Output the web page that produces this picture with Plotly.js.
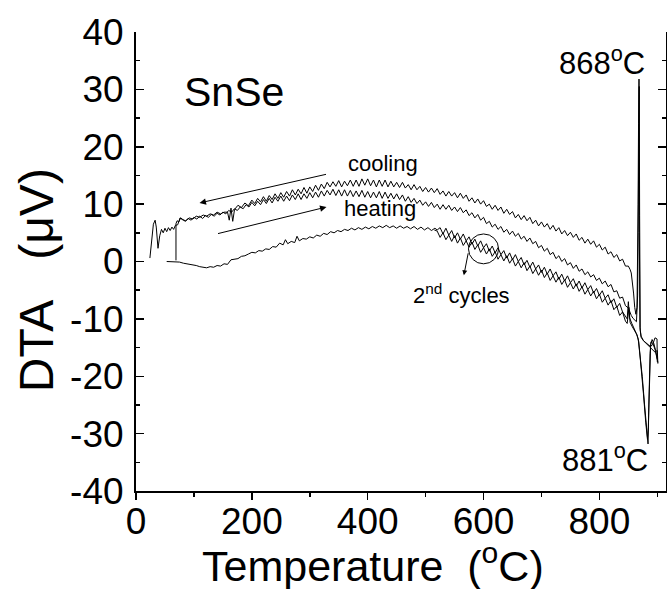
<!DOCTYPE html>
<html>
<head>
<meta charset="utf-8">
<script src="https://cdn.plot.ly/plotly-3.0.1.min.js"></script>
<style>html,body{margin:0;padding:0;background:#fff;}#chart{width:667px;height:589px;}</style>
</head>
<body>
<div id="chart"></div>
<script>
// ---- data (Temperature in °C, DTA in µV) ----
// shared temperature grid for the two cooling curves (850 -> 200 °C)
const gridCool = [850,845,840,835,830,825,820,815,810,805,800,795,790,785,780,775,770,765,760,755,750,745,740,735,730,725,720,715,710,705,700,695,690,685,680,675,670,665,660,655,650,645,640,635,630,625,620,615,610,605,600,595,590,585,580,575,570,565,560,555,550,545,540,535,530,525,520,515,510,505,500,495,490,485,480,475,470,465,460,455,450,445,440,435,430,425,420,415,410,405,400,395,390,385,380,375,370,365,360,355,350,345,340,335,330,325,320,315,310,305,300,295,290,285,280,275,270,265,260,255,250,245,240,235,230,225,220,215,210,205,200];

// cooling curve 1 (upper at high T)
const coolAHighX = [900,899.5,896,892,888,884,880,876,872,870,869,868.4,867.6,866.8,866,865,863,861,859,857,855,853];
const coolAHighY = [-17.5,-13.5,-13.3,-14.5,-14.8,-14.5,-14.2,-13.8,-13.0,-11.5,5,31.8,24,10,-2,-8,-9.2,-8,-5.5,-3.2,-2.0,-1.4];
const coolAMidY = [-0.8,-0.8,0.4,0.1,1.2,0.7,1.7,1.3,2.5,2.0,
  3.0,2.5,3.6,3.0,3.9,3.2,4.2,3.7,4.8,4.2,
  5.1,4.5,5.4,4.8,5.9,5.3,6.3,5.6,6.6,6.0,
  6.9,6.2,7.2,6.6,7.7,7.1,8.0,7.3,8.2,7.6,
  8.7,8.2,9.1,8.4,9.5,8.9,9.8,9.1,10.0,9.6,
  10.6,10.0,10.9,10.2,11.1,10.5,11.6,11.0,11.9,11.1,
  12.0,11.4,12.2,11.4,12.3,11.7,12.7,12.0,12.8,12.1,
  12.9,12.2,13.1,12.5,13.4,12.5,13.4,12.8,13.8,12.9,
  13.8,13.0,14.0,13.0,14.2,13.1,14.2,13.0,14.2,13.2,
  14.4,13.3,14.4,13.1,14.2,13.1,14.2,13.2,14.0,13.0,
  14.1,13.1,13.9,13.0,13.8,
  12.7,13.5,12.4,13.3,12.2,13.0,11.9,12.9,11.8,12.6,
  11.6,12.5,11.4,12.2,11.2,12.0,11.0,11.8,10.8,11.5,
  10.5,11.3,10.4,11.0,10.1,10.7];
const coolALowX = [194,188,182,176,172,170,167,164,161,158,152,146,140,134,128,122,116,110,104,98,92,86,80,76,72,68,65,62,59,56,53,50,47,44,41,38,35,33,30,27,24];
const coolALowY = [9.7,10.2,9.4,9.8,9.3,9.0,7.0,9.3,7.2,8.6,8.6,8.3,8.6,8.1,8.3,7.9,8.1,7.7,7.9,7.4,7.6,7.1,7.3,7.6,6.4,6.3,5.6,6.0,5.4,5.9,5.2,5.8,5.0,5.6,4.5,2.3,6.0,7.2,6.5,4.0,0.6];

// cooling curve 2 (middle at high T)
const coolBHighX = [901,900,896,892,888,884,880,876,872,870.5,869.5,868.8,868,867,866,864,861,858,855];
const coolBHighY = [-17.8,-15.5,-15.8,-15.4,-15.0,-14.6,-14.2,-13.8,-13.2,-12.0,8,30.5,22,5,-6,-10.5,-10.2,-9.9,-9.4];
const coolBMidY = [-8.1,-7.7,-6.2,-6.4,-5.1,-5.3,-4.0,-4.4,-3.4,-3.9,
  -2.9,-3.3,-2.3,-2.7,-1.8,-2.3,-1.3,-1.7,-0.6,-1.2,
  -0.2,-0.6,0.5,0.0,1.0,0.5,1.6,1.2,2.3,1.8,
  2.8,2.4,3.5,3.1,4.1,3.5,4.4,3.9,4.9,4.4,
  5.3,4.7,5.6,5.1,6.1,5.6,6.5,6.0,7.0,6.6,
  7.7,7.2,8.2,7.6,8.5,8.0,9.0,8.5,9.4,8.7,
  9.5,8.9,9.8,9.1,9.9,9.1,10.0,9.4,10.3,9.6,
  10.4,9.8,10.7,10.1,11.0,10.3,11.3,10.5,11.6,10.8,
  11.8,10.9,11.9,11.0,12.1,11.0,12.2,11.1,12.1,11.1,
  12.2,11.2,12.4,11.3,12.3,11.3,12.4,11.4,12.5,11.4,
  12.5,11.5,12.6,11.6,12.4,
  11.4,12.3,11.2,12.1,11.1,12.0,11.0,11.8,10.8,11.8,
  10.8,11.6,10.6,11.4,10.5,11.4,10.5,11.2,10.2,11.0,
  10.1,10.8,9.9,10.5,9.7,10.3];
const coolBLowX = [195,190,185,180,175,170,165,160,155,150,145,140,135,130,125,120,115,110,105,100,95,90,85,80,77,74,71,69,69];
const coolBLowY = [9.5,9.9,9.2,9.5,8.9,9.2,8.6,8.9,8.3,8.6,8.1,8.4,7.9,8.2,7.7,8.0,7.5,7.9,7.4,7.7,7.2,7.5,7.0,7.3,7.6,6.9,7.1,6.6,0.2];

// heating curves
const heatALowX = [53,60,69,75,82,90,97,104,110,116,122,128,134,140,146,152,158,164,170,176,182,188,194,200,206,212,218,224,230,236,242,248,254,258,262,268,274,278,282,288,294,300,306,312,318,324,330,336,342,348,354,360,366,372,378,384,390,396,402,408,414,420,426,432,438,444,450,456,462,468,474,480,486,492,498,504,510,516,520];
const heatALowY = [0.0,0.0,0.0,-0.1,-0.3,-0.4,-0.6,-0.7,-0.9,-1.0,
  -1.1,-0.9,-1.0,-0.7,-0.8,-0.4,-0.5,0.3,0.4,0.5,
  0.9,1.0,1.3,1.6,1.5,1.9,1.8,2.2,2.1,2.6,
  2.5,3.2,2.9,3.8,3.1,3.5,3.3,4.4,3.6,4.0,
  3.9,4.3,4.1,4.6,4.4,4.9,4.7,5.2,5.0,5.4,
  5.2,5.6,5.4,5.8,5.5,5.9,5.6,6.0,5.7,6.1,
  5.8,6.2,5.9,6.3,5.9,6.2,5.8,6.2,5.8,6.1,
  5.7,6.1,5.6,6.0,5.5,5.9,5.4,5.8,5.5];
const gridBand = [525,530,535,540,545,550,555,560,565,570,575,580,585,590,595,600,605,610,615,620,625,630,635,640,645,650,655,660,665,670,675,680,685,690,695,700,705,710,715,720,725,730,735,740,745,750,755,760,765,770,775,780,785,790,795,800,805,810,815,820,825,830,835,840,845];
const heatABandY = [5.9,4.8,5.8,4.6,5.4,4.1,5.0,3.9,4.8,3.6,
  4.3,3.0,3.9,2.7,3.6,2.4,3.1,1.8,2.7,1.5,
  2.4,1.2,1.9,0.6,1.5,0.3,1.2,0.0,0.7,-0.6,
  0.2,-1.0,-0.1,-1.3,-0.6,-1.9,-1.0,-2.2,-1.3,-2.5,
  -1.8,-3.1,-2.2,-3.4,-2.5,-3.7,-3.0,-4.3,-3.4,-4.6,
  -3.7,-4.9,-4.2,-5.5,-4.7,-5.9,-5.1,-6.4,-5.8,-7.2,
  -6.5,-8.0,-7.3,-8.8,-9.6];
const heatAHighX = [848,850,852,856,860,864,867,870,874,878,882,884,885.5,887,888.5,891,894,897,900];
const heatAHighY = [-10.0,-7.0,-9.8,-10.8,-11.6,-12.6,-13.5,-16,-20,-25,-30.5,-31.8,-25,-17,-14.5,-13.6,-14.3,-15.5,-17.0];

const heatBStartX = [515,520];
const heatBStartY = [5.5,5.3];
const heatBBandY = [4.2,5.0,3.8,4.6,3.5,4.5,3.2,4.1,2.8,3.6,
  2.5,3.4,2.1,2.9,1.6,2.4,1.3,2.2,0.9,1.7,
  0.4,1.2,0.1,1.0,-0.3,0.5,-0.8,0.0,-1.1,-0.2,
  -1.6,-0.8,-2.1,-1.3,-2.4,-1.5,-2.8,-2.0,-3.3,-2.5,
  -3.6,-2.7,-4.0,-3.2,-4.5,-3.7,-4.8,-3.9,-5.2,-4.4,
  -5.7,-4.9,-6.0,-5.2,-6.5,-5.7,-7.1,-6.4,-7.6,-6.8,
  -8.4,-7.8,-9.4,-8.8,-10.4];
const heatBHighX = [848,851,853,857,861,865,868,872,876,880,883,884.5,886,887.5,889,892,896,899,901];
const heatBHighY = [-10.8,-8.0,-10.6,-11.4,-12.0,-12.8,-14,-18,-23,-28,-31.0,-29,-21,-16,-14.0,-14.2,-15.3,-16.8,-17.6];

const xTickVals = [0,200,400,600,800];
const yTickVals = [-40,-30,-20,-10,0,10,20,30,40];

// ---- build series ----
const series = [
  {x: coolAHighX.concat(gridCool, coolALowX), y: coolAHighY.concat(coolAMidY, coolALowY)},
  {x: coolBHighX.concat(gridCool, coolBLowX), y: coolBHighY.concat(coolBMidY, coolBLowY)},
  {x: heatALowX.concat(gridBand, heatAHighX), y: heatALowY.concat(heatABandY, heatAHighY)},
  {x: heatBStartX.concat(gridBand, heatBHighX), y: heatBStartY.concat(heatBBandY, heatBHighY)}
];
const FONT = 'Liberation Sans, Arial, Helvetica, sans-serif';
const traces = series.map(s => ({
  type: 'scatter', mode: 'lines', x: s.x, y: s.y,
  line: {color: '#000', width: 1}, hoverinfo: 'skip', showlegend: false
}));

const arrowBase = {xref: 'x', yref: 'y', axref: 'x', ayref: 'y', text: '', showarrow: true,
  arrowhead: 2, arrowsize: 1.3, arrowwidth: 1, arrowcolor: '#000'};
const txt = (x, y, text, size) => ({xref: 'x', yref: 'y', x: x, y: y, text: text, showarrow: false,
  xanchor: 'center', yanchor: 'middle', font: {family: FONT, size: size, color: '#000'}});

const layout = {
  width: 667, height: 589,
  margin: {l: 136, r: 1, t: 32, b: 98, pad: 0},
  paper_bgcolor: '#fff', plot_bgcolor: '#fff',
  font: {family: FONT, color: '#000'},
  showlegend: false,
  xaxis: {
    range: [0, 915], tickvals: xTickVals, ticktext: xTickVals.map(String),
    ticks: 'outside', ticklen: 7, tickwidth: 1.5, tickcolor: '#000',
    minor: {tickvals: [100,300,500,700,900], ticks: 'outside', ticklen: 4, tickwidth: 1.5, tickcolor: '#000'},
    showline: true, linewidth: 2, linecolor: '#000', showgrid: false, zeroline: false,
    tickfont: {family: FONT, size: 37, color: '#000'}, ticklabelstandoff: -10
  },
  xaxis2: {
    overlaying: 'x', side: 'top', anchor: 'y', range: [0, 915],
    tickvals: xTickVals, showticklabels: false,
    ticks: 'inside', ticklen: 8, tickwidth: 1.5, tickcolor: '#000',
    minor: {tickvals: [100,300,500,700,900], ticks: 'inside', ticklen: 4, tickwidth: 1.5, tickcolor: '#000'},
    showline: true, linewidth: 2, linecolor: '#000', showgrid: false, zeroline: false
  },
  yaxis: {
    range: [-40, 40], tickvals: yTickVals, ticktext: yTickVals.map(String),
    ticks: 'inside', ticklen: 8, tickwidth: 1.5, tickcolor: '#000', mirror: 'ticks',
    minor: {tickvals: [-35,-25,-15,-5,5,15,25,35], ticks: 'inside', ticklen: 4, tickwidth: 1.5, tickcolor: '#000'},
    showline: true, linewidth: 2, linecolor: '#000', showgrid: false, zeroline: false,
    tickfont: {family: FONT, size: 37, color: '#000'}, ticklabelstandoff: 3
  },
  shapes: [
    {type: 'circle', xref: 'x', yref: 'y', x0: 574, x1: 626, y0: -0.4, y1: 4.8, line: {color: '#000', width: 1}}
  ],
  annotations: [
    Object.assign({}, arrowBase, {x: 109.6, y: 10.2, ax: 330.6, ay: 15.25}),
    Object.assign({}, arrowBase, {x: 328.9, y: 9.5, ax: 139, ay: 4.8}),
    Object.assign({}, arrowBase, {x: 566, y: -2.4, ax: 574, ay: 1.7, arrowsize: 1}),
    txt(170, 29.5, 'SnSe', 41),
    txt(805, 34.9, '868<sup>o</sup>C', 31),
    txt(809, -34.2, '881<sup>o</sup>C', 31),
    txt(427, 17.0, 'cooling', 22),
    txt(420.5, 9.3, 'heating', 22),
    txt(562, -5.6, '2<sup>nd</sup> cycles', 22),
    {xref: 'paper', yref: 'paper', x: -0.188, y: 0.46, textangle: -90, showarrow: false,
     xanchor: 'center', yanchor: 'middle', text: 'DTA\u00a0\u00a0\u00a0(\u03bcV)',
     font: {family: FONT, size: 48, color: '#000'}},
    {xref: 'paper', yref: 'paper', x: 0.447, y: -0.157, showarrow: false,
     xanchor: 'center', yanchor: 'middle', text: 'Temperature\u00a0\u00a0(<sup>o</sup>C)',
     font: {family: FONT, size: 43, color: '#000'}}
  ]
};

Plotly.newPlot('chart', traces, layout, {staticPlot: true, displayModeBar: false});
</script>
</body>
</html>
